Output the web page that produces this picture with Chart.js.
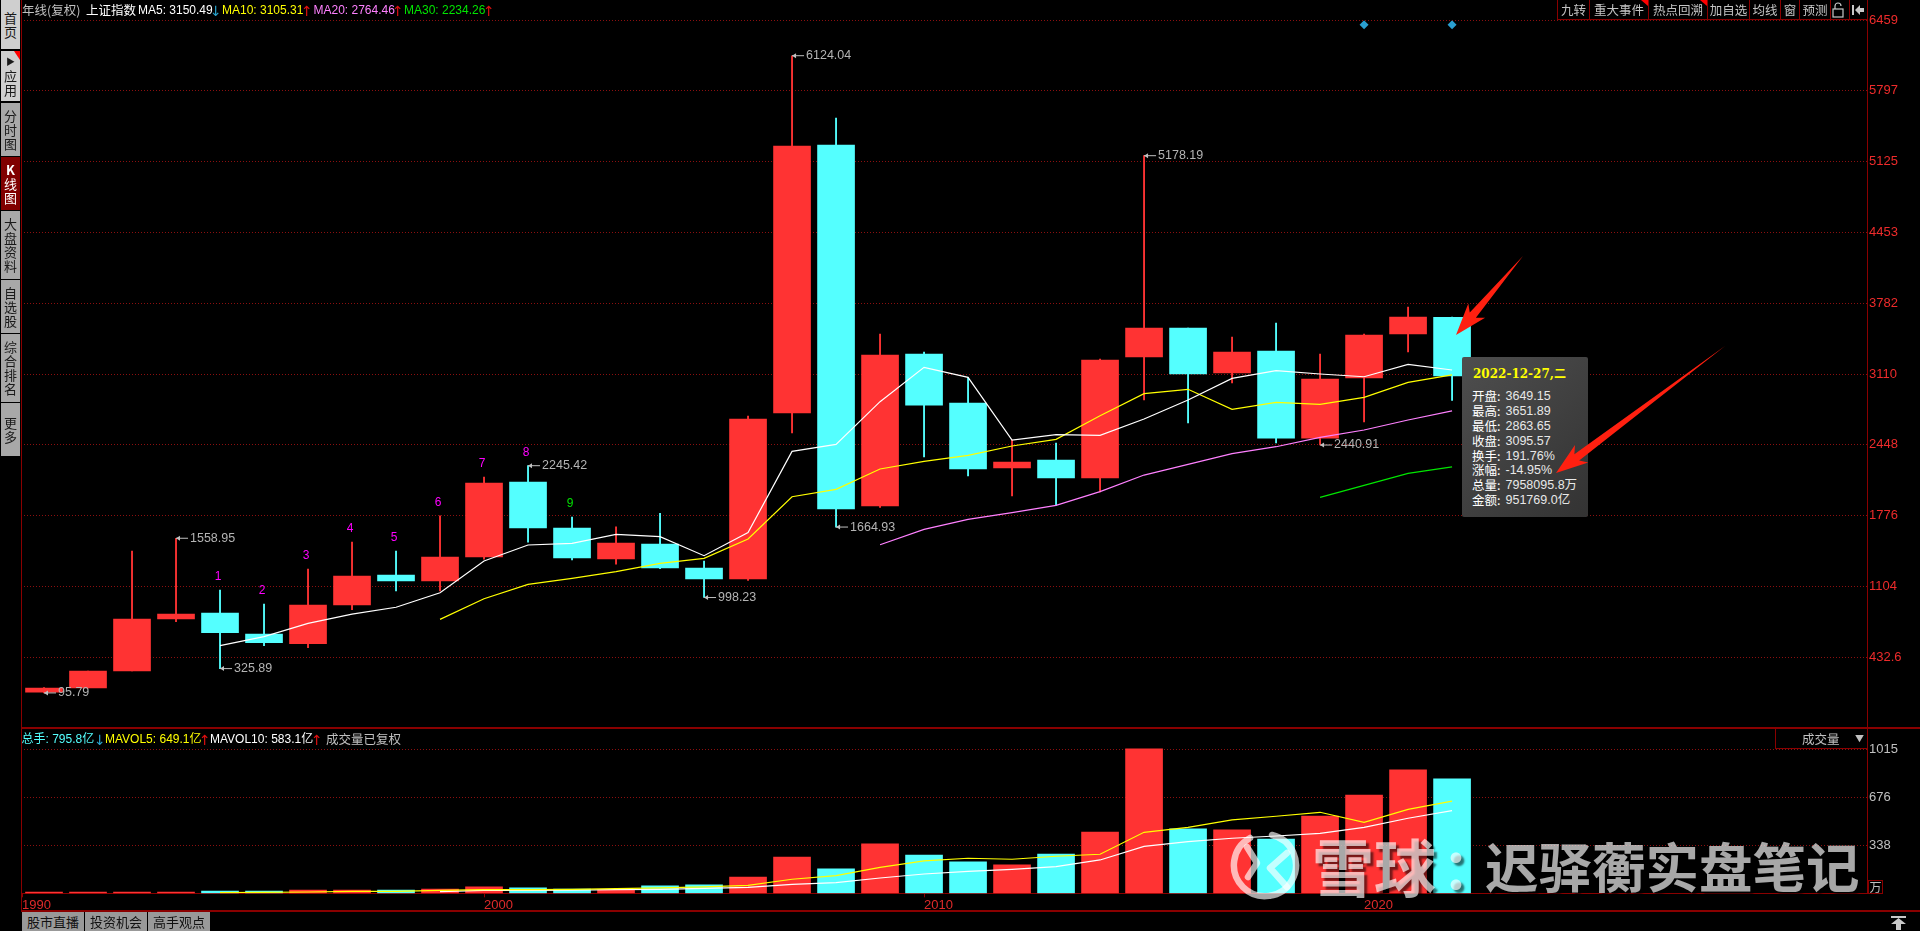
<!DOCTYPE html>
<html lang="zh-CN">
<head>
<meta charset="utf-8">
<title>上证指数 年线</title>
<script src="https://cdn.jsdelivr.net/npm/chart.js@4/dist/chart.umd.min.js"></script>
<style>
    html, body { margin: 0; padding: 0; background: #000; overflow: hidden; width: 1920px; height: 931px; }
    body { font-family: "Noto Sans CJK SC", "Liberation Sans", sans-serif; position: relative; }
    canvas { position: absolute; left: 0; }
    #priceChart { top: 0; }
    #volumeChart { top: 728px; }
    .txt { position: absolute; white-space: nowrap; line-height: 14px; font-size: 12.5px; }
    .num { font-family: "Liberation Sans", "Noto Sans CJK SC", sans-serif; font-size: 12px; }
    .flechita { font-family: "DejaVu Sans", sans-serif; font-size: 14px; }
    .linea { position: absolute; background: #8a0000; }
    .lateral { position: absolute; left: 1px; width: 19px; background: #a8a8a8; color: #1a1a1a; font-size: 13px; line-height: 14px;
        display: flex; flex-direction: column; align-items: center; justify-content: center; box-sizing: border-box; }
    .pestana { position: absolute; top: 912px; height: 19px; background: #999; color: #111; font-size: 13px; line-height: 19px; text-align: center; }
    .boton { position: absolute; top: 0; height: 19px; border-left: 1px solid #8a0000; box-sizing: border-box; color: #c4c4c4; font-size: 12.5px; line-height: 19px; text-align: center; }
    #cuadro { position: absolute; left: 1462px; top: 357px; width: 126px; height: 160px; border-radius: 2px;
        background: linear-gradient(135deg, #4e4e4e, #333); }
    svg { position: absolute; left: 0; top: 0; pointer-events: none; }
</style>
</head>
<body>
<canvas id="priceChart" width="1920" height="728"></canvas>
<canvas id="volumeChart" width="1920" height="203"></canvas>
<div id="ui"></div>
<div id="cuadro"></div>
<svg id="capa" width="1920" height="931" xmlns="http://www.w3.org/2000/svg"></svg>
<div id="marca"></div>

<script>
// Datos
const years = [1990, 1991, 1992, 1993, 1994, 1995, 1996, 1997, 1998, 1999, 2000, 2001, 2002, 2003, 2004, 2005,
    2006, 2007, 2008, 2009, 2010, 2011, 2012, 2013, 2014, 2015, 2016, 2017, 2018, 2019, 2020, 2021, 2022];

const opens = [104, 142, 303, 795, 852, 653, 562, 928, 1211, 1155, 1382, 2091, 1656, 1363, 1505, 1278,
    1174, 2744, 5279, 1864, 3302, 2838, 2224, 2299, 2129, 3274, 3548, 3122, 3330, 2507, 3075, 3491, 3649.15];
const closes = [142, 303, 795, 842, 666, 571, 928, 1202, 1155, 1382, 2082, 1656, 1372, 1514, 1278, 1174,
    2687, 5269, 1836, 3292, 2819, 2214, 2280, 2129, 3245, 3548, 3113, 3321, 2507, 3065, 3482, 3652, 3095.57];
const highs = [146, 303, 1438, 1558.95, 1069, 937, 1268, 1524, 1438, 1770, 2138, 2245.42, 1760, 1666, 1795, 1344,
    2715, 6124.04, 5534, 3491, 3321, 3081, 2488, 2460, 3254, 5178.19, 3548, 3463, 3595, 3302, 3491, 3746, 3651.89];
const lows = [95.79, 142, 303, 770, 325.89, 543, 524, 883, 1060, 1060, 1361, 1523, 1353, 1315, 1271, 998.23,
    1161, 2555, 1664.93, 1851, 2328, 2148, 1959, 1870, 1997, 2867, 2649, 3028, 2460, 2440.91, 2659, 3321, 2863.65];

const ma5 = [null, null, null, null, 543, 628, 754, 842, 906, 1044, 1344, 1495, 1511, 1596, 1574, 1394,
    1612, 2381, 2447, 2851, 3176, 3081, 2488, 2539, 2532, 2687, 2867, 3071, 3144, 3113, 3087, 3204, 3150.49];
const ma10 = [null, null, null, null, null, null, null, null, null, 792, 987, 1123, 1180, 1243, 1322, 1369,
    1552, 1952, 2022, 2214, 2287, 2343, 2432, 2495, 2718, 2927, 2968, 2778, 2845, 2826, 2892, 3034, 3105.31];
const ma20 = [null, null, null, null, null, null, null, null, null, null, null, null, null, null, null, null,
    null, null, null, 1498, 1643, 1738, 1801, 1870, 2000, 2157, 2258, 2359, 2425, 2513, 2583, 2678, 2764.46];
const ma30 = [null, null, null, null, null, null, null, null, null, null, null, null, null, null, null, null,
    null, null, null, null, null, null, null, null, null, null, null, null, null, 1946, 2060, 2173, 2234.26];

const volumes = [9, 9, 9, 9, 16, 16, 23, 23, 23, 30, 45, 38, 30, 26, 52, 59,
    115, 256, 172, 348, 270, 221, 200, 277, 432, 1018, 454, 447, 383, 545, 693, 870, 806];
const mavol5 = [null, null, null, null, 5, 7, 9, 14, 14, 21, 26, 26, 28, 33, 38, 45,
    56, 99, 125, 183, 228, 247, 240, 261, 275, 430, 465, 517, 543, 571, 500, 592, 649.1];
const mavol10 = [null, null, null, null, null, null, null, null, null, 12, 21, 21, 23, 26, 28, 35,
    42, 63, 75, 108, 136, 155, 169, 188, 235, 331, 364, 388, 404, 423, 465, 529, 583.1];

const priceTicks = [6459, 5797, 5125, 4453, 3782, 3110, 2448, 1776, 1104, 432.6];
const volumeTicks = [1015, 676, 338];
const yearTicks = [1989.5, 2000, 2010, 2020];
const yearLabels = ['1990', '2000', '2010', '2020'];

// Maximos y minimos marcados
const markYears = [1990, 1993, 1994, 2001, 2005, 2007, 2008, 2015, 2019];
const markValues = [95.79, 1558.95, 325.89, 2245.42, 998.23, 6124.04, 1664.93, 5178.19, 2440.91];

// Numeros de la secuencia "九转"
const nineYears = [1994, 1995, 1996, 1997, 1998, 1999, 2000, 2001, 2002];
const nineLabels = ['1', '2', '3', '4', '5', '6', '7', '8', '9'];

// Rombos azules de arriba
const eventYears = [2020, 2022];
const eventValues = [6418, 6418];

const tooltipLabels = ['开盘', '最高', '最低', '收盘', '换手', '涨幅', '总量', '金额'];
const tooltipValues = ['3649.15', '3651.89', '2863.65', '3095.57', '191.76%', '-14.95%', '7958095.8万', '951769.0亿'];

const ROJO = '#ff3333';
const CIAN = '#54ffff';
const ROJO_OSCURO = '#8a0000';
const REJILLA = '#8c0f0f';

// Escala X compartida por los dos paneles
const xMin = 1989.477;
const xMax = 2031.43;

function pares(lista) {
    return years.map((y, i) => ({ x: y, y: lista[i] })).filter(p => p.y !== null);
}

function datasetLinea(label, lista, color) {
    return { type: 'line', label: label, data: pares(lista), borderColor: color, borderWidth: 1.2,
        pointRadius: 0, tension: 0, order: 1 };
}

// Ancho fijo del eje derecho, sin el margen que Chart.js reserva para las etiquetas
function ajustarEjeY(scale) {
    scale.width = 53;
    scale.paddingTop = 0;
    scale.paddingBottom = 0;
}

// Dibuja etiquetas de maximos/minimos y numeros de la secuencia
const etiquetasPlugin = {
    id: 'etiquetas',
    afterDatasetsDraw(chart) {
        const ctx = chart.ctx;
        const xs = chart.scales.x;
        const ys = chart.scales.y;
        ctx.save();
        ctx.textBaseline = 'middle';
        ctx.textAlign = 'left';

        markYears.forEach((year, i) => {
            const px = xs.getPixelForValue(year);
            const py = ys.getPixelForValue(markValues[i]);
            ctx.strokeStyle = '#c0c0c0';
            ctx.fillStyle = '#c0c0c0';
            ctx.lineWidth = 1;
            ctx.beginPath();
            ctx.moveTo(px, py);
            ctx.lineTo(px + 12, py);
            ctx.stroke();
            ctx.beginPath();
            ctx.moveTo(px, py);
            ctx.lineTo(px + 4, py - 2.5);
            ctx.lineTo(px + 4, py + 2.5);
            ctx.fill();
            ctx.font = '12.5px "Liberation Sans"';
            ctx.fillStyle = '#b4b4b4';
            ctx.fillText(markValues[i].toFixed(2), px + 14, py);
        });

        ctx.textAlign = 'center';
        ctx.font = '12px "Liberation Sans"';
        nineYears.forEach((year, i) => {
            const px = xs.getPixelForValue(year);
            const py = ys.getPixelForValue(highs[years.indexOf(year)]);
            ctx.fillStyle = nineLabels[i] === '9' ? '#00e000' : '#ff00ff';
            ctx.fillText(nineLabels[i], px - 2, py - 13);
        });
        ctx.restore();
    }
};

// Crear grafico de velas
function crearGraficoPrecio() {
    const colores = years.map((y, i) => closes[i] >= opens[i] ? ROJO : CIAN);

    new Chart(document.getElementById('priceChart').getContext('2d'), {
        data: {
            datasets: [
                datasetLinea('MA5', ma5, '#ffffff'),
                datasetLinea('MA10', ma10, '#ffff00'),
                datasetLinea('MA20', ma20, '#ff80ff'),
                datasetLinea('MA30', ma30, '#00e600'),
                {
                    type: 'scatter',
                    data: eventYears.map((y, i) => ({ x: y, y: eventValues[i] })),
                    pointStyle: 'rectRot',
                    pointRadius: 4.5,
                    backgroundColor: '#2a9fd0',
                    borderWidth: 0,
                    order: 0
                },
                {
                    type: 'bar',
                    data: years.map((y, i) => ({ x: y, y: [opens[i], closes[i]] })),
                    backgroundColor: colores,
                    barThickness: 37,
                    grouped: false,
                    order: 2
                },
                {
                    type: 'bar',
                    data: years.map((y, i) => ({ x: y, y: [lows[i], highs[i]] })),
                    backgroundColor: colores,
                    barThickness: 1.2,
                    grouped: false,
                    order: 3
                }
            ]
        },
        options: {
            responsive: false,
            animation: false,
            events: [],
            layout: { autoPadding: false, padding: { left: 21, top: 20.3, right: 0, bottom: 0 } },
            plugins: { legend: { display: false }, tooltip: { enabled: false } },
            scales: {
                x: { type: 'linear', display: false, offset: false, min: xMin, max: xMax },
                y: {
                    position: 'right',
                    min: -236,
                    max: 6459,
                    afterFit: ajustarEjeY,
                    afterBuildTicks: scale => { scale.ticks = priceTicks.map(v => ({ value: v })); },
                    grid: { color: REJILLA, drawTicks: false, lineWidth: 1 },
                    border: { color: ROJO_OSCURO, dash: [1, 2] },
                    ticks: {
                        color: '#ee2b2b',
                        padding: 2,
                        autoSkip: false,
                        font: { family: 'Liberation Sans', size: 13 },
                        callback: v => String(v)
                    }
                }
            }
        },
        plugins: [etiquetasPlugin]
    });
}

// Crear grafico de volumen
function crearGraficoVolumen() {
    const colores = years.map((y, i) => closes[i] >= opens[i] ? ROJO : CIAN);

    new Chart(document.getElementById('volumeChart').getContext('2d'), {
        data: {
            datasets: [
                datasetLinea('MAVOL5', mavol5, '#ffff00'),
                datasetLinea('MAVOL10', mavol10, '#ffffff'),
                {
                    type: 'bar',
                    data: years.map((y, i) => ({ x: y, y: volumes[i] })),
                    backgroundColor: colores,
                    barThickness: 37,
                    grouped: false,
                    order: 2
                }
            ]
        },
        options: {
            responsive: false,
            animation: false,
            events: [],
            layout: { autoPadding: false, padding: { left: 21, top: 0, right: 0, bottom: 0 } },
            plugins: { legend: { display: false }, tooltip: { enabled: false } },
            scales: {
                x: {
                    type: 'linear',
                    offset: false,
                    min: xMin,
                    max: xMax,
                    afterFit: scale => { scale.height = 37.7; },
                    afterBuildTicks: scale => { scale.ticks = yearTicks.map(v => ({ value: v })); },
                    grid: { drawOnChartArea: false, color: ROJO_OSCURO, tickLength: 4, offset: false },
                    border: { color: ROJO_OSCURO },
                    ticks: {
                        color: '#e02a2a',
                        padding: 0,
                        maxRotation: 0,
                        autoSkip: false,
                        align: 'start',
                        font: { family: 'Liberation Sans', size: 13 },
                        callback: v => yearLabels[yearTicks.indexOf(v)]
                    }
                },
                y: {
                    position: 'right',
                    min: 0,
                    max: 1165,
                    afterFit: ajustarEjeY,
                    afterBuildTicks: scale => { scale.ticks = volumeTicks.map(v => ({ value: v })); },
                    grid: { color: REJILLA, drawTicks: false, lineWidth: 1 },
                    border: { color: ROJO_OSCURO, dash: [1, 2] },
                    ticks: {
                        color: '#c0c0c0',
                        padding: 2,
                        autoSkip: false,
                        font: { family: 'Liberation Sans', size: 13 },
                        callback: v => String(v)
                    }
                }
            }
        }
    });
}

function ponerTexto(padre, x, y, texto, color, clase) {
    const el = document.createElement('div');
    el.className = 'txt ' + (clase || '');
    el.style.left = x + 'px';
    el.style.top = (y - 7) + 'px';
    el.style.color = color;
    el.textContent = texto;
    padre.appendChild(el);
    return el;
}

function ponerLinea(x, y, w, h) {
    const el = document.createElement('div');
    el.className = 'linea';
    el.style.cssText = `left:${x}px;top:${y}px;width:${w}px;height:${h}px;`;
    document.getElementById('ui').appendChild(el);
}

// Barra lateral, botones y leyendas
function crearInterfaz() {
    const ui = document.getElementById('ui');

    ponerLinea(21, 0, 1, 911);
    ponerLinea(1867, 0, 1, 893);
    ponerLinea(21, 727, 1899, 2);
    ponerLinea(21, 910, 1899, 2);

    // Leyenda superior
    ponerTexto(ui, 22, 10, '年线(复权)', '#c0c0c0');
    ponerTexto(ui, 86, 10, '上证指数', '#ffffff');
    ponerTexto(ui, 138, 10, 'MA5: ' + ma5[32], '#ffffff', 'num');
    ponerTexto(ui, 210, 11, '↓', '#2aa6d0', 'flechita');
    ponerTexto(ui, 222, 10, 'MA10: ' + ma10[32], '#ffff00', 'num');
    ponerTexto(ui, 301, 11, '↑', '#e01010', 'flechita');
    ponerTexto(ui, 313.5, 10, 'MA20: ' + ma20[32], '#ff80ff', 'num');
    ponerTexto(ui, 392, 11, '↑', '#e01010', 'flechita');
    ponerTexto(ui, 404, 10, 'MA30: ' + ma30[32], '#00e600', 'num');
    ponerTexto(ui, 483, 11, '↑', '#e01010', 'flechita');

    // Leyenda de volumen
    ponerTexto(ui, 21.5, 739, '总手: 795.8亿', '#54ffff', 'num');
    ponerTexto(ui, 94, 740, '↓', '#2aa6d0', 'flechita');
    ponerTexto(ui, 105, 739, 'MAVOL5: ' + mavol5[32] + '亿', '#ffff00', 'num');
    ponerTexto(ui, 199, 740, '↑', '#e01010', 'flechita');
    ponerTexto(ui, 210, 739, 'MAVOL10: ' + mavol10[32] + '亿', '#ffffff', 'num');
    ponerTexto(ui, 311, 740, '↑', '#e01010', 'flechita');
    ponerTexto(ui, 326, 739, '成交量已复权', '#c0c0c0');

    // Selector de indicador
    ponerLinea(1775, 728, 1, 21);
    ponerLinea(1775, 748, 92, 1);
    ponerTexto(ui, 1802, 739, '成交量', '#c0c0c0');
    ponerTexto(ui, 1855, 739, '▼', '#c0c0c0').style.fontSize = '9px';

    // Caja de la unidad
    const unidad = ponerTexto(ui, 1868, 887, '万', '#c0c0c0');
    unidad.style.cssText += 'width:15px;height:14px;border:1px solid #8a0000;box-sizing:border-box;text-align:center;line-height:12px;font-size:12px;';

    // Botones de la barra lateral
    const laterales = [
        ['首页', 0, 49, '#cfcfcf', '#1a1a1a'],
        ['▶应用', 51, 50, '#cfcfcf', '#1a1a1a'],
        ['分时图', 103, 53, '#a8a8a8', '#1a1a1a'],
        ['K线图', 157, 53, '#800000', '#ffffff'],
        ['大盘资料', 211, 68, '#a8a8a8', '#1a1a1a'],
        ['自选股', 280, 53, '#a8a8a8', '#1a1a1a'],
        ['综合排名', 334, 68, '#a8a8a8', '#1a1a1a'],
        ['更多', 403, 53, '#a8a8a8', '#1a1a1a']
    ];
    laterales.forEach(([texto, top, alto, fondo, color]) => {
        const el = document.createElement('div');
        el.className = 'lateral';
        el.style.top = top + 'px';
        el.style.height = alto + 'px';
        el.style.background = fondo;
        el.style.color = color;
        Array.from(texto).forEach(c => {
            const s = document.createElement('span');
            s.textContent = c;
            if (c === '▶') s.style.fontSize = '9px';
            if (c === 'K') s.style.fontWeight = 'bold';
            el.appendChild(s);
        });
        ui.appendChild(el);
    });

    // Pestanas inferiores
    [['股市直播', 22], ['投资机会', 85], ['高手观点', 148]].forEach(([texto, x]) => {
        const el = document.createElement('div');
        el.className = 'pestana';
        el.style.left = x + 'px';
        el.style.width = '62px';
        el.textContent = texto;
        ui.appendChild(el);
    });

    // Botones superiores
    const botones = [['九转', 1557, 32], ['重大事件', 1589, 59], ['热点回溯', 1648, 59], ['加自选', 1707, 42],
        ['均线', 1749, 31], ['窗', 1780, 19], ['预测', 1799, 31], ['', 1830, 19], ['', 1849, 18]];
    botones.forEach(([texto, x, w]) => {
        const el = document.createElement('div');
        el.className = 'boton';
        el.style.left = x + 'px';
        el.style.width = w + 'px';
        el.textContent = texto;
        ui.appendChild(el);
    });
    ponerLinea(1557, 19, 310, 1);
}

function flecha(x1, y1, x2, y2) {
    const largo = Math.hypot(x2 - x1, y2 - y1);
    const ux = (x2 - x1) / largo;
    const uy = (y2 - y1) / largo;
    const nx = -uy;
    const ny = ux;
    const punto = (d, s) => `${x2 - ux * d + nx * s},${y2 - uy * d + ny * s}`;
    return `${x1},${y1} ${punto(26, 4)} ${punto(32, 11)} ${x2},${y2} ${punto(32, -11)} ${punto(26, -4)}`;
}

// Flechas, iconos y marca de agua
function crearCapa() {
    const capa = document.getElementById('capa');
    const poligono = (puntos, color) => `<polygon points="${puntos}" fill="${color}"/>`;

    let svg = '';
    svg += poligono(flecha(1523, 256, 1456, 335), '#ff2010');
    svg += poligono(flecha(1725, 346, 1556, 473), '#ff2010');
    // Esquinas rojas de los botones
    svg += poligono('1641,0 1648,0 1648,6', '#ff0000');
    svg += poligono('1700,0 1707,0 1707,6', '#ff0000');
    svg += poligono('14,51 20,51 20,60', '#ff0000');
    // Candado
    svg += '<rect x="1833" y="9" width="10" height="8" fill="none" stroke="#c8c8c8" stroke-width="1.2"/>';
    svg += '<path d="M1835 9 V6 a3 3 0 0 1 6 0" fill="none" stroke="#c8c8c8" stroke-width="1.2"/>';
    // Volver
    svg += '<rect x="1852" y="5" width="2" height="10" fill="#c8c8c8"/>';
    svg += poligono('1855,10 1860,5 1860,8 1864,8 1864,12 1860,12 1860,15', '#c8c8c8');
    // Subir
    svg += '<rect x="1891" y="916" width="15" height="2" fill="#c8c8c8"/>';
    svg += poligono('1898.5,918 1906,924 1901,924 1901,930 1896,930 1896,924 1891,924', '#c8c8c8');

    // Logo de la marca de agua
    svg += '<g fill="none" stroke="rgba(255,255,255,0.66)" stroke-linecap="round" stroke-linejoin="round" stroke-width="6.5">';
    svg += '<path d="M1272 835 A31 31 0 1 1 1250 838"/>';
    svg += '<path d="M1247 847 L1257 863 L1248 877"/>';
    svg += '<path d="M1287 853 L1270 868 L1287 887"/>';
    svg += '</g>';
    capa.innerHTML = svg;

    // Texto de la marca de agua
    const marca = document.getElementById('marca');
    [['雪球', 1312, 62], ['：', 1442, 56], ['迟驿蘅实盘笔记', 1485, 53.5]].forEach(([texto, x, tam]) => {
        const el = document.createElement('div');
        el.className = 'txt';
        el.style.left = x + 'px';
        el.style.top = (867 - tam / 2 - 2) + 'px';
        el.style.fontSize = tam + 'px';
        el.style.lineHeight = tam + 'px';
        el.style.fontWeight = '700';
        el.style.color = 'rgba(255,255,255,0.66)';
        el.style.textShadow = '3px 3px 2px rgba(0,0,0,0.55)';
        el.textContent = texto;
        marca.appendChild(el);
    });
}

// Cuadro con los datos de la ultima vela
function crearCuadro() {
    const cuadro = document.getElementById('cuadro');
    const titulo = ponerTexto(cuadro, 11, 17, '2022-12-27,二', '#ffff00');
    titulo.style.fontWeight = 'bold';
    titulo.style.fontFamily = '"DejaVu Serif", "Noto Sans CJK SC", serif';
    titulo.style.fontSize = '12px';
    tooltipLabels.forEach((label, i) => {
        const y = 38.7 + i * 14.95;
        ponerTexto(cuadro, 10, y, label + ':', '#ffffff');
        ponerTexto(cuadro, 43.5, y, tooltipValues[i], '#e8e8e8', 'num').style.fontSize = '12.5px';
    });
}

document.addEventListener('DOMContentLoaded', function() {
    crearGraficoPrecio();
    crearGraficoVolumen();
    crearInterfaz();
    crearCuadro();
    crearCapa();
});
</script>
</body>
</html>
